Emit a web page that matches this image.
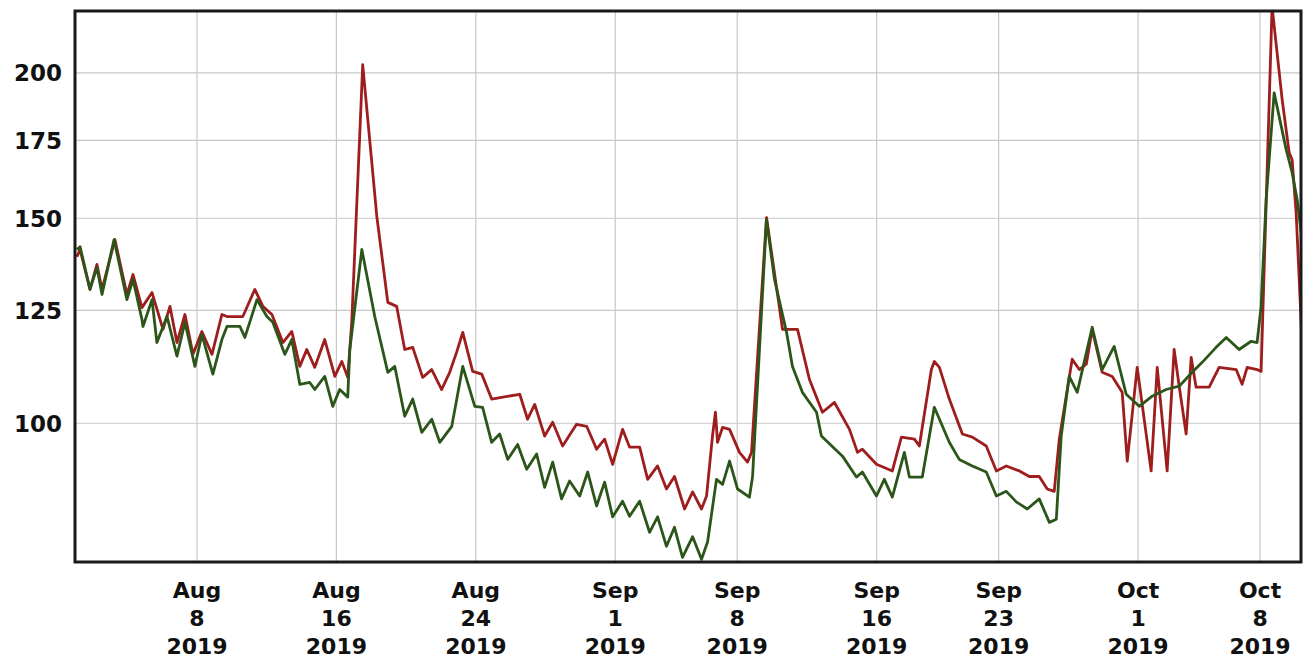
<!DOCTYPE html>
<html>
<head>
<meta charset="utf-8">
<script src="https://cdn.jsdelivr.net/npm/d3@7"></script>
<style>
  body { margin: 0; background: #fff; }
  .tick-label { font-family: 'DejaVu Sans', Verdana, sans-serif; font-weight: bold; font-size: 22px; fill: #111; }
  .y-label { font-size: 23px; }
</style>
</head>
<body>
<div id="chart"></div>
<script>
// days since Aug 1 2019, value
const startDate = new Date(2019, 7, 1)
const endDay = 70.35

const xTickDates = [
  new Date(2019, 7, 8), new Date(2019, 7, 16), new Date(2019, 7, 24),
  new Date(2019, 8, 1), new Date(2019, 8, 8), new Date(2019, 8, 16),
  new Date(2019, 8, 23), new Date(2019, 9, 1), new Date(2019, 9, 8)
]
const yTicks = [100, 125, 150, 175, 200]

const redSeries = [
  [0.11, 139.0], [0.29, 141.0], [0.86, 130.3], [1.26, 136.9], [1.55, 130.3],
  [2.29, 143.8], [2.98, 129.0], [3.33, 134.2], [3.84, 125.7], [4.42, 129.5],
  [5.05, 120.4], [5.45, 126.0], [5.85, 117.3], [6.31, 124.0], [6.77, 114.6],
  [7.28, 119.9], [7.86, 114.6], [8.43, 124.0], [8.72, 123.5], [9.63, 123.5],
  [10.32, 130.3], [10.78, 126.0], [11.3, 124.0], [11.93, 117.3], [12.44, 119.9],
  [12.9, 111.9], [13.3, 115.7], [13.76, 111.7], [14.33, 118.0], [14.91, 109.7],
  [15.31, 113.0], [15.65, 109.5], [15.88, 122.1], [16.51, 203.2], [17.32, 150.5],
  [17.95, 127.0], [18.46, 126.0], [18.92, 115.7], [19.38, 116.2], [19.95, 109.5],
  [20.47, 111.2], [21.04, 106.9], [21.5, 110.6], [21.9, 115.1], [22.25, 119.7],
  [22.82, 110.8], [23.34, 110.2], [23.91, 104.9], [25.52, 105.9], [25.97, 100.8],
  [26.38, 103.8], [26.95, 97.5], [27.41, 100.2], [27.98, 95.6], [28.78, 99.8],
  [29.36, 99.4], [29.93, 95.0], [30.39, 96.9], [30.85, 92.2], [31.42, 98.8],
  [31.82, 95.4], [32.4, 95.4], [32.86, 89.5], [33.43, 91.9], [33.94, 87.8],
  [34.4, 90.0], [34.98, 84.4], [35.44, 87.3], [35.95, 84.4], [36.24, 86.6],
  [36.58, 97.5], [36.75, 102.2], [36.87, 96.3], [37.16, 99.2], [37.56, 98.8],
  [38.13, 94.4], [38.59, 92.6], [38.82, 94.4], [39.68, 150.2], [40.6, 120.4],
  [41.46, 120.4], [42.14, 109.1], [42.89, 102.2], [43.58, 104.2], [44.44, 98.8],
  [44.9, 94.4], [45.18, 95.0], [45.99, 92.2], [46.9, 91.0], [47.42, 97.3],
  [48.17, 96.9], [48.45, 95.6], [49.14, 111.2], [49.31, 113.0], [49.6, 111.7],
  [50.17, 104.9], [50.92, 97.9], [51.49, 97.3], [52.29, 95.6], [52.87, 91.0],
  [53.44, 91.9], [54.19, 91.0], [54.76, 90.0], [55.33, 90.0], [55.79, 87.8],
  [56.19, 87.4], [56.48, 96.9], [57.22, 113.5], [57.63, 111.2], [58.03, 112.4],
  [58.37, 120.4], [58.94, 110.6], [59.52, 109.7], [60.09, 106.3], [60.38, 92.8],
  [60.95, 111.7], [61.75, 91.0], [62.1, 111.7], [62.67, 91.0], [63.07, 115.7],
  [63.36, 107.6], [63.76, 97.9], [64.05, 113.9], [64.33, 107.4], [65.08, 107.4],
  [65.65, 111.7], [66.63, 111.2], [66.97, 108.0], [67.26, 111.7], [67.83, 111.2],
  [68.06, 110.8], [68.69, 228.0], [69.27, 189.6], [69.67, 170.8], [69.84, 168.4],
  [70.07, 151.7], [70.24, 133.7], [70.41, 117.3]
]

const greenSeries = [
  [0.11, 141.0], [0.29, 141.8], [0.86, 130.3], [1.26, 136.1], [1.55, 129.0],
  [2.24, 143.8], [2.98, 127.7], [3.33, 132.9], [3.84, 122.8], [3.9, 121.1],
  [4.42, 127.7], [4.7, 117.3], [5.28, 123.5], [5.85, 114.2], [6.31, 122.1],
  [6.88, 111.9], [7.28, 119.2], [7.91, 110.2], [8.43, 118.0], [8.72, 121.1],
  [9.46, 121.1], [9.75, 118.5], [10.44, 127.7], [11.01, 123.5], [11.35, 122.1],
  [12.04, 114.6], [12.44, 118.0], [12.9, 108.0], [13.47, 108.4], [13.76, 106.9],
  [14.33, 109.7], [14.79, 103.4], [15.19, 106.9], [15.65, 105.3], [15.77, 115.7],
  [16.46, 141.0], [17.2, 123.5], [17.95, 110.6], [18.35, 111.9], [18.92, 101.4],
  [19.38, 104.9], [19.9, 98.2], [20.47, 100.8], [20.93, 96.3], [21.62, 99.4],
  [22.25, 111.9], [22.94, 103.4], [23.39, 103.2], [23.91, 96.3], [24.37, 97.9],
  [24.83, 93.1], [25.4, 95.9], [25.92, 91.3], [26.49, 94.1], [26.95, 88.1],
  [27.41, 92.6], [27.92, 86.1], [28.38, 89.2], [28.96, 86.6], [29.42, 90.8],
  [29.93, 84.9], [30.39, 89.0], [30.85, 83.1], [31.42, 85.7], [31.82, 83.2],
  [32.4, 85.7], [32.97, 80.6], [33.43, 83.1], [33.94, 78.4], [34.4, 81.4],
  [34.86, 76.7], [35.44, 79.9], [35.95, 76.4], [36.3, 79.1], [36.81, 89.5],
  [37.16, 88.6], [37.56, 92.8], [38.02, 87.8], [38.7, 86.4], [38.88, 90.0],
  [39.68, 149.6], [40.14, 132.9], [40.83, 119.7], [41.17, 111.9], [41.74, 106.3],
  [42.55, 102.2], [42.83, 97.5], [44.04, 93.7], [44.84, 89.9], [45.18, 90.8],
  [45.99, 86.6], [46.44, 89.5], [46.9, 86.4], [47.59, 94.4], [47.88, 89.9],
  [48.62, 89.9], [49.31, 103.2], [50.17, 96.3], [50.74, 93.1], [51.49, 91.9],
  [52.29, 90.8], [52.87, 86.6], [53.44, 87.4], [54.01, 85.6], [54.64, 84.4],
  [55.33, 86.1], [55.91, 82.2], [56.31, 82.7], [56.59, 97.5], [57.05, 109.7],
  [57.51, 106.3], [58.37, 120.9], [58.94, 111.2], [59.63, 116.4], [60.32, 105.9],
  [61.07, 103.4], [61.81, 105.5], [62.61, 106.9], [63.36, 107.6], [64.11, 110.6],
  [64.68, 112.8], [65.48, 116.2], [66.06, 118.5], [66.8, 115.7], [67.49, 117.6],
  [67.83, 117.3], [68.06, 126.0], [68.35, 155.6], [68.81, 192.2], [69.5, 171.8],
  [69.84, 164.2], [70.13, 155.6], [70.36, 145.8]
]

const margin = { top: 11, left: 75, right: 11, bottom: 96 }
const width = 1312 - margin.left - margin.right
const height = 658 - margin.top - margin.bottom

const svg = d3
  .select('#chart')
  .append('svg')
  .attr('width', 1312)
  .attr('height', 658)
  .append('g')
  .attr('transform', 'translate(' + margin.left + ',' + margin.top + ')')

const dayToDate = d => new Date(startDate.getTime() + d * 864e5)

const xScale = d3
  .scaleTime()
  .domain([startDate, dayToDate(endDay)])
  .range([0, width])

const yScale = d3
  .scaleLog()
  .domain([76, 226])
  .range([height, 0])

svg
  .append('clipPath')
  .attr('id', 'plot-clip')
  .append('rect')
  .attr('width', width)
  .attr('height', height)

// grid
svg
  .selectAll('.vgrid')
  .data(xTickDates)
  .enter()
  .append('line')
  .attr('class', 'vgrid')
  .attr('x1', d => xScale(d))
  .attr('x2', d => xScale(d))
  .attr('y1', 0)
  .attr('y2', height)
  .attr('stroke', '#c8c8c8')
  .attr('stroke-width', 1.2)

svg
  .selectAll('.hgrid')
  .data(yTicks)
  .enter()
  .append('line')
  .attr('class', 'hgrid')
  .attr('x1', 0)
  .attr('x2', width)
  .attr('y1', d => yScale(d))
  .attr('y2', d => yScale(d))
  .attr('stroke', '#c8c8c8')
  .attr('stroke-width', 1.2)

const line = d3
  .line()
  .x(d => xScale(dayToDate(d[0])))
  .y(d => yScale(d[1]))

const plot = svg.append('g').attr('clip-path', 'url(#plot-clip)')

plot
  .append('path')
  .datum(redSeries)
  .attr('d', line)
  .attr('fill', 'none')
  .attr('stroke', '#9e1d1d')
  .attr('stroke-width', 2.8)
  .attr('stroke-linejoin', 'round')

plot
  .append('path')
  .datum(greenSeries)
  .attr('d', line)
  .attr('fill', 'none')
  .attr('stroke', '#2c5619')
  .attr('stroke-width', 2.8)
  .attr('stroke-linejoin', 'round')

// frame
svg
  .append('rect')
  .attr('width', width)
  .attr('height', height)
  .attr('fill', 'none')
  .attr('stroke', '#1a1a1a')
  .attr('stroke-width', 3)

// y labels
svg
  .selectAll('.y-label')
  .data(yTicks)
  .enter()
  .append('text')
  .attr('class', 'tick-label y-label')
  .attr('x', -13)
  .attr('y', d => yScale(d))
  .attr('dy', '0.36em')
  .attr('text-anchor', 'end')
  .text(d => d)

// x labels, three lines each
const xLabels = svg
  .selectAll('.x-label')
  .data(xTickDates)
  .enter()
  .append('text')
  .attr('class', 'tick-label x-label')
  .attr('text-anchor', 'middle')
  .attr('transform', d => 'translate(' + xScale(d) + ',' + (height + 36) + ')')

const fmts = [d3.timeFormat('%b'), d3.timeFormat('%-d'), d3.timeFormat('%Y')]
fmts.forEach((f, i) => {
  xLabels
    .append('tspan')
    .attr('x', 0)
    .attr('y', i * 28)
    .text(d => f(d))
})
</script>
</body>
</html>
